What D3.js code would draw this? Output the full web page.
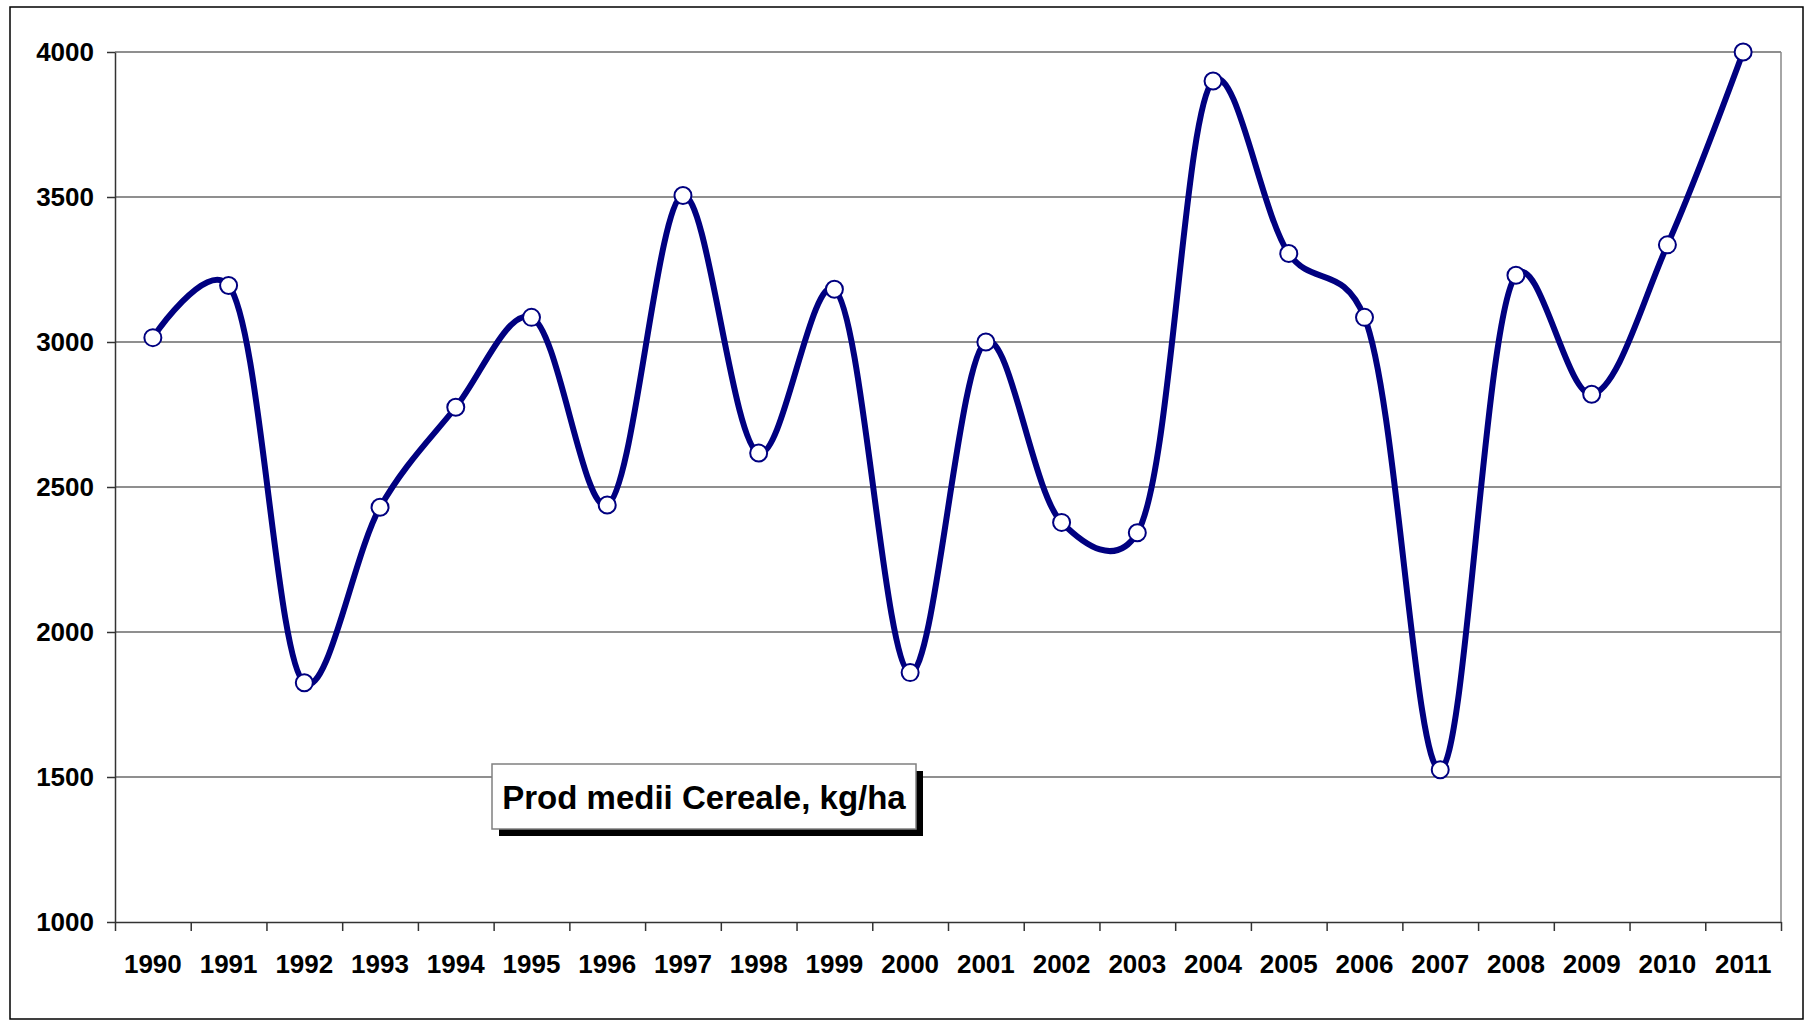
<!DOCTYPE html>
<html>
<head>
<meta charset="utf-8">
<script src="https://cdn.jsdelivr.net/npm/d3@7"></script>
<style>
  body { margin: 0; background: #fff; }
  text { font-family: "Liberation Sans", Arial, sans-serif; font-weight: bold; }
</style>
</head>
<body>
<script>
const width = 1805;
const height = 1021;

// data
const seriesName = "Prod medii Cereale, kg/ha";
const years = ["1990", "1991", "1992", "1993", "1994", "1995", "1996", "1997", "1998", "1999", "2000",
               "2001", "2002", "2003", "2004", "2005", "2006", "2007", "2008", "2009", "2010", "2011"];
const yields = [3015, 3195, 1825, 2430, 2775, 3085, 2438, 3505, 2617, 3182, 1860,
                3000, 2378, 2342, 3900, 3305, 3085, 1525, 3230, 2820, 3335, 4000];
const yTicks = [1000, 1500, 2000, 2500, 3000, 3500, 4000];

const plotLeft = 115;
const plotRight = 1781;
const plotTop = 52;
const plotBottom = 922;
const lineColor = "#000080";

let svg = d3.select("body")
    .append("svg")
    .attr("width", width)
    .attr("height", height);

// outer chart frame
svg.append("rect")
    .attr("x", 10)
    .attr("y", 7)
    .attr("width", 1793)
    .attr("height", 1012)
    .attr("fill", "#fff")
    .attr("stroke", "#000")
    .attr("stroke-width", 1.5);

const x = d3.scaleBand()
    .domain(years)
    .range([plotLeft, plotRight])
    .padding(0);

const xEdges = d3.scaleLinear()
    .domain([0, years.length])
    .range([plotLeft, plotRight]);

const y = d3.scaleLinear()
    .domain([1000, 4000])
    .range([plotBottom, plotTop]);

// horizontal gridlines
svg.append("g")
    .selectAll("line")
    .data(yTicks.filter(d => d > 1000))
    .join("line")
    .attr("x1", plotLeft)
    .attr("x2", plotRight)
    .attr("y1", d => y(d))
    .attr("y2", d => y(d))
    .attr("stroke", "#6a6a6a")
    .attr("stroke-width", 1.5);

// right edge of the plot area
svg.append("line")
    .attr("x1", plotRight)
    .attr("x2", plotRight)
    .attr("y1", plotTop)
    .attr("y2", plotBottom)
    .attr("stroke", "#888")
    .attr("stroke-width", 1.5);

// y axis
let yAxis = svg.append("g")
    .attr("transform", `translate(${plotLeft},0)`)
    .call(d3.axisLeft(y).tickValues(yTicks).tickFormat(d3.format("d"))
        .tickSize(8).tickPadding(13).tickSizeOuter(0));
yAxis.selectAll("text")
    .attr("font-size", 26)
    .attr("font-family", "Liberation Sans, Arial, sans-serif")
    .attr("fill", "#000");
yAxis.selectAll("line, path").attr("stroke", "#333").attr("stroke-width", 1.5);

// x axis: tick marks at category boundaries
let xTicks = svg.append("g")
    .attr("transform", `translate(0,${plotBottom})`)
    .call(d3.axisBottom(xEdges).tickValues(d3.range(years.length + 1)).tickFormat("").tickSize(9).tickSizeOuter(0));
xTicks.selectAll("line, path").attr("stroke", "#333").attr("stroke-width", 1.5);

// x axis: labels centred on categories
let xLabels = svg.append("g")
    .attr("transform", `translate(0,${plotBottom})`)
    .call(d3.axisBottom(x).tickSize(0).tickPadding(33));
xLabels.select("path").remove();
xLabels.selectAll("text")
    .attr("font-size", 26)
    .attr("font-family", "Liberation Sans, Arial, sans-serif")
    .attr("fill", "#000");

// smoothed line, between uniform and centripetal Catmull-Rom
const points = years.map((yr, i) => ({ x: x(yr) + x.bandwidth() / 2, y: y(yields[i]) }));

const line = d3.line()
    .x(d => d.x)
    .y(d => d.y)
    .curve(d3.curveCatmullRom.alpha(0.25));

svg.append("path")
    .datum(points)
    .attr("d", line)
    .attr("fill", "none")
    .attr("stroke", lineColor)
    .attr("stroke-width", 6)
    .attr("stroke-linejoin", "round");

svg.append("g")
    .selectAll("circle")
    .data(points)
    .join("circle")
    .attr("cx", d => d.x)
    .attr("cy", d => d.y)
    .attr("r", 8.5)
    .attr("fill", "#fff")
    .attr("stroke", lineColor)
    .attr("stroke-width", 2);

// legend box with drop shadow
let legend = svg.append("g").attr("transform", "translate(492,764)");
legend.append("rect")
    .attr("x", 7)
    .attr("y", 7)
    .attr("width", 424)
    .attr("height", 65)
    .attr("fill", "#000");
legend.append("rect")
    .attr("width", 424)
    .attr("height", 65)
    .attr("fill", "#fff")
    .attr("stroke", "#808080")
    .attr("stroke-width", 1.5);
legend.append("text")
    .attr("x", 212)
    .attr("y", 45)
    .attr("text-anchor", "middle")
    .attr("font-size", 33)
    .text(seriesName);
</script>
</body>
</html>
